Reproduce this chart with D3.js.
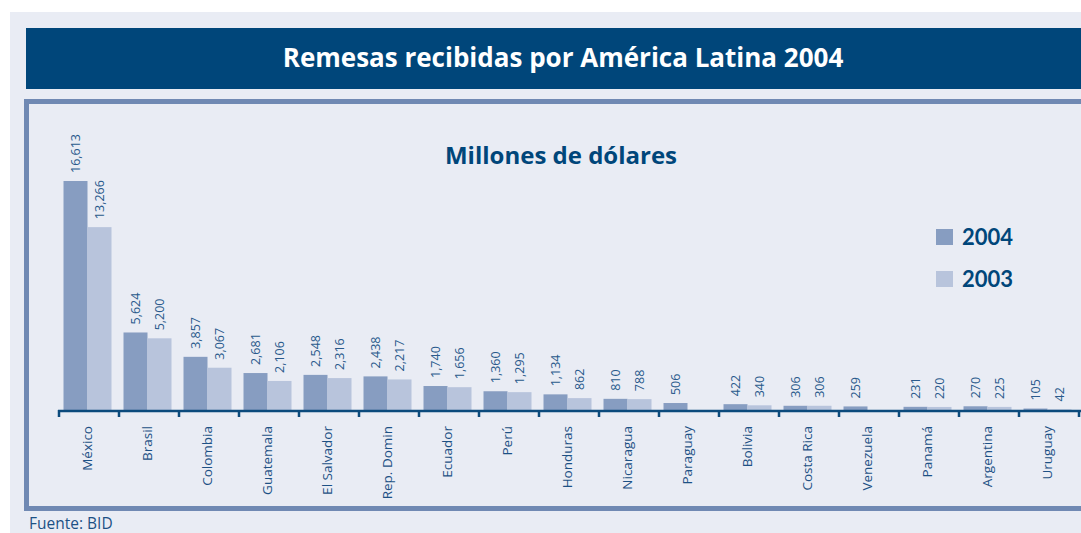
<!DOCTYPE html>
<html>
<head>
<meta charset="utf-8">
<script src="https://cdn.jsdelivr.net/npm/d3@7"></script>
<style>
  body { margin: 0; background: #fff; }
  svg { display: block; }
</style>
</head>
<body>
<svg width="1081" height="533"></svg>
<script>
// datos: remesas en millones de dólares
var countries = ["México", "Brasil", "Colombia", "Guatemala", "El Salvador", "Rep. Domin",
    "Ecuador", "Perú", "Honduras", "Nicaragua", "Paraguay", "Bolivia", "Costa Rica",
    "Venezuela", "Panamá", "Argentina", "Uruguay"];
var years = ["2004", "2003"];
var values2004 = [16613, 5624, 3857, 2681, 2548, 2438, 1740, 1360, 1134, 810, 506, 422, 306, 259, 231, 270, 105];
var values2003 = [13266, 5200, 3067, 2106, 2316, 2217, 1656, 1295, 862, 788, null, 340, 306, null, 220, 225, 42];

var svg = d3.select("svg");
var width = +svg.attr("width"), height = +svg.attr("height");
var dark = "#00467a", textBlue = "#1d5185";
var color = d3.scaleOrdinal().domain(years).range(["#879dc1", "#b8c4dc"]);
var font = "'Open Sans', sans-serif";

// fondo y marcos
svg.append("rect").attr("x", 10).attr("y", 12).attr("width", width - 10).attr("height", height - 12)
    .attr("fill", "#e9ecf4");
svg.append("rect").attr("x", 26).attr("y", 28).attr("width", width - 26).attr("height", 61)
    .attr("fill", dark);
svg.append("text").attr("x", 563).attr("y", 67).attr("text-anchor", "middle")
    .attr("fill", "#fff").style("font", "bold 26px " + font)
    .text("Remesas recibidas por América Latina 2004");
svg.append("rect").attr("x", 26.5).attr("y", 101.5).attr("width", width).attr("height", 407)
    .attr("fill", "none").attr("stroke", "#7089b3").attr("stroke-width", 5);

svg.append("text").attr("x", 561).attr("y", 164).attr("text-anchor", "middle")
    .attr("fill", dark).style("font", "bold 24px " + font)
    .text("Millones de dólares");

// escalas
var x0 = d3.scaleBand().domain(countries).range([59, 1079]).paddingInner(0.2).paddingOuter(0.1);
var x1 = d3.scaleBand().domain(years).range([0, x0.bandwidth()]);
var y = d3.scaleLinear().domain([0, 16613]).range([410, 181]);

var rows = countries.map(function (c, i) {
    return {country: c, vals: [{year: "2004", v: values2004[i]}, {year: "2003", v: values2003[i]}]};
});

var groups = svg.append("g").selectAll("g").data(rows).enter().append("g")
    .attr("transform", function (d) { return "translate(" + (x0(d.country) - 1.5) + ",0)"; });

var cells = groups.selectAll("g").data(function (d) {
    return d.vals.filter(function (e) { return e.v != null; });
}).enter().append("g");

cells.append("rect")
    .attr("x", function (d) { return x1(d.year); })
    .attr("y", function (d) { return y(d.v); })
    .attr("width", x1.bandwidth())
    .attr("height", function (d) { return y(0) - y(d.v); })
    .attr("fill", function (d) { return color(d.year); });

cells.append("text")
    .attr("transform", function (d) {
        return "translate(" + (x1(d.year) + x1.bandwidth() / 2) + "," + (y(d.v) - 8) + ") rotate(-90)";
    })
    .attr("dy", "0.35em")
    .attr("fill", "#2a5a8c")
    .style("font", "12.5px " + font)
    .text(function (d) { return d3.format(",")(d.v); });

// eje
var axis = svg.append("g").attr("transform", "translate(0,410)");
axis.append("line").attr("x1", 58).attr("x2", width).attr("y1", 1).attr("y2", 1)
    .attr("stroke", "#0b4a7c").attr("stroke-width", 2.5);
var tickPos = d3.range(countries.length + 1).map(function (i) { return 59 + i * (1020 / countries.length); });
axis.selectAll(".tick").data(tickPos).enter().append("line")
    .attr("x1", function (d) { return d; }).attr("x2", function (d) { return d; })
    .attr("y1", 0).attr("y2", 7)
    .attr("stroke", "#0b4a7c").attr("stroke-width", 2.5);

axis.selectAll(".lbl").data(countries).enter().append("text")
    .attr("transform", function (d) {
        return "translate(" + (x0(d) + x0.bandwidth() / 2 - 1.5) + ",16) rotate(-90)";
    })
    .attr("text-anchor", "end")
    .attr("dy", "0.35em")
    .attr("fill", textBlue)
    .style("font", "13.5px " + font)
    .text(function (d) { return d; });

// leyenda
var legend = svg.append("g").selectAll("g").data(years).enter().append("g")
    .attr("transform", function (d, i) { return "translate(936," + (229 + i * 42) + ")"; });
legend.append("rect").attr("width", 17).attr("height", 16)
    .attr("fill", function (d) { return color(d); });
legend.append("text").attr("x", 26).attr("y", 16)
    .attr("fill", dark).style("font", "bold 22px Lato, sans-serif")
    .text(function (d) { return d; });

svg.append("text").attr("x", 29).attr("y", 529).attr("fill", textBlue)
    .style("font", "15.5px " + font).text("Fuente: BID");
</script>
</body>
</html>
